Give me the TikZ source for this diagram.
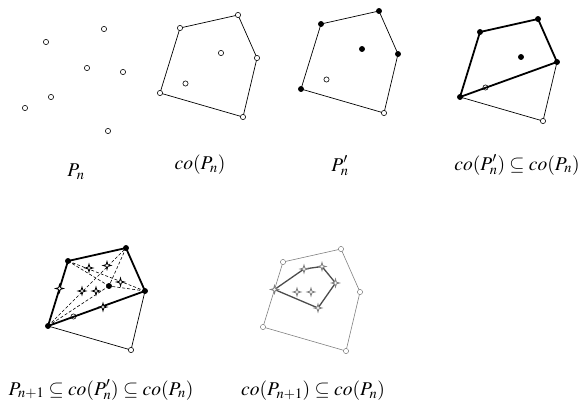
\documentclass[tikz,border=0pt]{standalone}
\usepackage{mathptmx}
\begin{document}
\begin{tikzpicture}[x=1pt,y=-1pt,
  pt/.style={circle,inner sep=0pt,minimum size=5.2pt,line width=0.6pt},
  opn/.style={pt,draw,fill=white},
  ring/.style={pt,draw},
  fil/.style={pt,draw,fill=black},
  gpt/.style={pt,draw=gray,fill=white,line width=0.5pt},
  thin edge/.style={line width=0.7pt},
  bold edge/.style={line width=1.8pt},
  dsh/.style={line width=0.6pt,dash pattern=on 3pt off 2pt},
  lbl/.style={font=\fontsize{19.5}{22}\selectfont,inner sep=0pt},
  starmk/.pic={\draw[line width=0.8pt,pic actions] (0,-4)--(0.9,-0.9)--(4,0)--(0.9,0.9)--(0,4)--(-0.9,0.9)--(-4,0)--(-0.9,-0.9)--cycle;}
]
\useasboundingbox (0,0) rectangle (587,408);
\newcommand\hullcoords[1]{%
  \coordinate (#1v1) at (0,0);
  \coordinate (#1v2) at (58,-13);
  \coordinate (#1v3) at (77,30);
  \coordinate (#1v4) at (63,89);
  \coordinate (#1v5) at (-20,65);
  \coordinate (#1f) at (41,25);
  \coordinate (#1o) at (5.5,55.5);}
\newcommand\starcoords[1]{%
  \coordinate (#1s1) at (-8.5,27.5);
  \coordinate (#1s2) at (21,7);
  \coordinate (#1s3) at (39,4.5);
  \coordinate (#1s4) at (52.5,21);
  \coordinate (#1s5) at (14,30);
  \coordinate (#1s6) at (28,30);
  \coordinate (#1s7) at (35,46);}

% ---------- panel 1 : P_n
\node[opn] (p1) at (46,42) {};
\node[opn] (p2) at (104,29) {};
\node[opn] (p3) at (87,68) {};
\node[opn] (p4) at (123,72) {};
\node[opn] (p5) at (51,97) {};
\node[opn] (p6) at (25,108) {};
\node[opn] (p7) at (108,131) {};
\node[lbl] (l1) at (76,172) {$P_n$};

% ---------- panel 2 : co(P_n)
\begin{scope}[shift={(180,28)}]\hullcoords{b}\end{scope}
\draw[thin edge] (bv1)--(bv2)--(bv3)--(bv4)--(bv5)--cycle;
\foreach \v in {v1,v2,v3,v4,v5,f,o} \node[opn] (bn\v) at (b\v) {};
\node[lbl] (l2) at (200,165) {$co(P_n)$};

% ---------- panel 3 : P'_n
\begin{scope}[shift={(321,24)}]\hullcoords{c}\end{scope}
\draw[thin edge] (cv1)--(cv2)--(cv3)--(cv4)--(cv5)--cycle;
\foreach \v in {v1,v2,v3,v5,f} \node[fil] (cn\v) at (c\v) {};
\foreach \v in {v4,o} \node[opn] (cn\v) at (c\v) {};
\node[lbl] (l3) at (340,166) {$P'_n$};

% ---------- panel 4 : co(P'_n) subseteq co(P_n)
\begin{scope}[shift={(480,32)}]\hullcoords{d}\end{scope}
\draw[thin edge] (dv3)--(dv4)--(dv5);
\node[ring] (dno) at (do) {};
\draw[bold edge,line join=round] (dv5)--(dv1)--(dv2)--(dv3)--cycle;
\foreach \v in {v1,v2,v3,v5,f} \node[fil] (dn\v) at (d\v) {};
\node[opn] (dnv4) at (dv4) {};
\node[lbl] (l4) at (517,165) {$co(P'_n)\subseteq co(P_n)$};

% ---------- panel 5
\begin{scope}[shift={(68,261)}]\hullcoords{e}\starcoords{e}\end{scope}
\draw[thin edge] (ev3)--(ev4)--(ev5);
\draw[dsh] (ev5)--(ev2) (ev1)--(ev3) (ev5)--(ef) (ev1)--(ef) (ev2)--(ef) (ev3)--(ef);
\node[ring] (eno) at (eo) {};
\draw[bold edge,line join=round] (ev5)--(ev1)--(ev2)--(ev3)--cycle;
\foreach \s in {s1,s2,s3,s4,s5,s6,s7} \pic[fill=white] (e\s) at (e\s) {starmk};
\foreach \v in {v1,v2,v3,v5,f} \node[fil] (en\v) at (e\v) {};
\node[opn] (env4) at (ev4) {};
\node[lbl] (l5) at (101,390) {$P_{n+1}\subseteq co(P'_n)\subseteq co(P_n)$};

% ---------- panel 6
\begin{scope}[shift={(283,262)}]\hullcoords{g}\starcoords{g}\end{scope}
\draw[gray,line width=0.6pt] (gv1)--(gv2)--(gv3)--(gv4)--(gv5)--cycle;
\draw[black!70,line width=1.3pt,line join=round] (gs1)--(gs2)--(gs3)--(gs4)--(gs7)--cycle;
\foreach \s in {s1,s2,s3,s4,s5,s6,s7} \pic[draw=gray,fill=white] (g\s) at (g\s) {starmk};
\foreach \v in {v1,v2,v3,v4,v5} \node[gpt] (gn\v) at (g\v) {};
\node[lbl] (l6) at (313,391) {$co(P_{n+1})\subseteq co(P_n)$};
\end{tikzpicture}
\end{document}
